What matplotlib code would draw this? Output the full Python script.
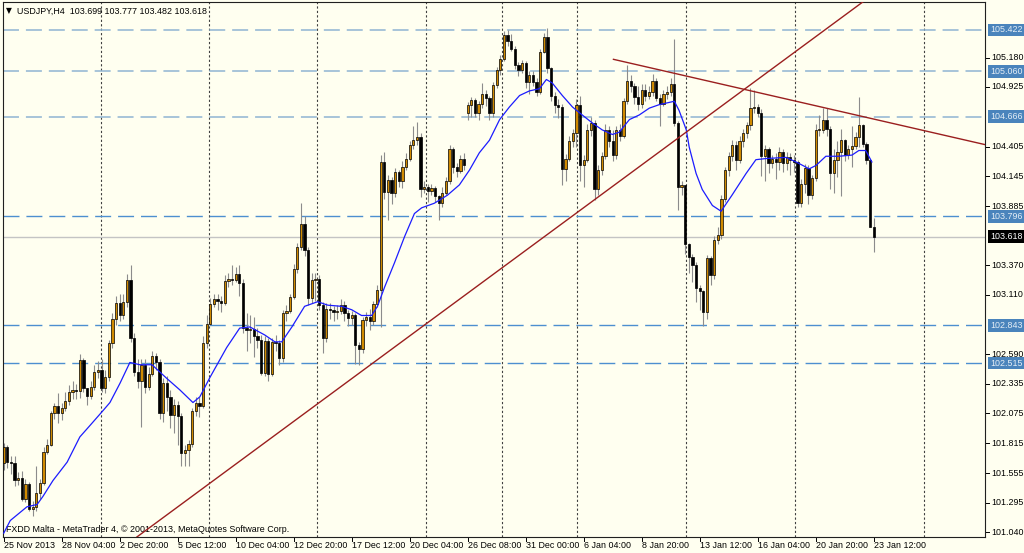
import matplotlib
matplotlib.use("Agg")
import matplotlib.pyplot as plt
from matplotlib.patches import Rectangle
from matplotlib.collections import LineCollection, PatchCollection

# MT4 screenshot: USDJPY H4 candles, MA, trendlines and S/R levels

symbol = "USDJPY,H4"
last_ohlc = [103.699, 103.777, 103.482, 103.618]
copyright_text = "FXDD Malta - MetaTrader 4, \u00a9 2001-2013, MetaQuotes Software Corp."

first_open = 101.64
gap_opens = {128: 104.70}

closes = [
    101.78, 101.65, 101.64, 101.49, 101.51, 101.33, 101.46, 101.24, 101.26, 101.38,
    101.47, 101.74, 101.80, 102.08, 102.14, 102.08, 102.12, 102.18, 102.26, 102.28,
    102.27, 102.54, 102.30, 102.23, 102.31, 102.44, 102.45, 102.30, 102.39, 102.69,
    102.90, 103.04, 102.93, 103.05, 103.24, 102.73, 102.44, 102.36, 102.50, 102.31,
    102.42, 102.58, 102.52, 102.08, 102.34, 102.22, 102.06, 102.15, 102.05, 101.73,
    101.76, 101.81, 102.10, 102.17, 102.14, 102.69, 102.86, 103.03, 103.07, 103.06,
    103.04, 103.23, 103.25, 103.24, 103.29, 103.21, 102.82, 102.80, 102.81, 102.75,
    102.72, 102.43, 102.71, 102.42, 102.70, 102.69, 102.56, 102.95, 102.97, 103.09,
    103.34, 103.53, 103.73, 103.50, 103.08, 103.24, 103.25, 103.02, 102.73, 102.99,
    102.98, 102.96, 102.97, 103.02, 102.95, 102.91, 102.93, 102.67, 102.64, 102.89,
    102.92, 102.88, 103.03, 103.15, 104.27, 104.01, 104.11, 104.00, 104.18, 104.10,
    104.23, 104.30, 104.42, 104.46, 104.49, 104.03, 104.05, 104.02, 104.04, 103.97,
    103.91, 104.00, 104.10, 104.38, 104.23, 104.19, 104.30, 104.24, 104.77, 104.81,
    104.70, 104.78, 104.86, 104.83, 104.70, 104.94, 105.07, 105.17, 105.38, 105.33,
    105.26, 105.12, 105.07, 105.13, 104.97, 105.03, 104.97, 104.88, 105.23, 105.36,
    105.09, 104.85, 104.77, 104.75, 104.21, 104.30, 104.45, 104.52, 104.77, 104.24,
    104.29, 104.55, 104.61, 104.03, 104.20, 104.32, 104.55, 104.45, 104.33, 104.55,
    104.50, 104.80, 104.98, 104.93, 104.84, 104.78, 104.90, 104.85, 104.88, 104.98,
    104.83, 104.78, 104.86, 104.88, 104.95, 104.61, 104.05, 104.07, 103.55, 103.44,
    103.37, 103.17, 103.14, 102.96, 103.43, 103.28, 103.59, 103.63, 103.95, 104.20,
    104.32, 104.42, 104.29, 104.45, 104.52, 104.59, 104.74, 104.75, 104.70, 104.32,
    104.38, 104.26, 104.30, 104.27, 104.36, 104.26, 104.31, 104.29, 104.27, 103.91,
    104.08, 104.22, 103.98, 104.13, 104.55, 104.55, 104.64, 104.56, 104.17, 104.29,
    104.36, 104.46, 104.33, 104.38, 104.41, 104.49, 104.59, 104.43, 104.29, 103.70,
    103.618,
]
highs = [
    101.82, 101.80, 101.70, 101.70, 101.56, 101.57, 101.50, 101.48, 101.31, 101.62,
    101.50, 101.78, 101.85, 102.10, 102.17, 102.25, 102.17, 102.26, 102.32, 102.36,
    102.33, 102.59, 102.56, 102.30, 102.36, 102.50, 102.53, 102.55, 102.45, 102.72,
    102.95, 103.10, 103.12, 103.12, 103.29, 103.37, 102.78, 102.55, 102.55, 102.55,
    102.48, 102.62, 102.60, 102.55, 102.38, 102.40, 102.28, 102.20, 102.18, 102.08,
    101.80, 101.84, 102.12, 102.22, 102.22, 102.75, 102.93, 103.08, 103.12, 103.12,
    103.10, 103.28, 103.30, 103.37, 103.35, 103.37, 103.25, 102.95, 102.93, 102.92,
    102.82, 102.76, 102.75, 102.73, 102.73, 102.76, 102.72, 102.98, 103.02, 103.12,
    103.38, 103.56, 103.91, 103.80, 103.53, 103.30, 103.30, 103.28, 103.05, 103.04,
    103.04, 103.01, 103.02, 103.07, 103.06, 102.98, 102.97, 102.95, 102.70, 102.92,
    102.96, 102.99, 103.06, 103.20, 104.33, 104.36, 104.16, 104.14, 104.22, 104.20,
    104.28, 104.35, 104.45, 104.58, 104.62, 104.52, 104.10, 104.08, 104.08, 104.06,
    103.98, 104.05, 104.14, 104.42, 104.40, 104.26, 104.33, 104.35, 104.79, 104.84,
    104.83, 104.80, 104.96, 104.90, 104.85, 104.97, 105.10, 105.20, 105.41, 105.42,
    105.39, 105.28, 105.14, 105.16, 105.15, 105.06, 105.06, 105.00, 105.26, 105.40,
    105.44, 105.10, 104.88, 104.82, 104.78, 104.34, 104.50, 104.56, 104.82, 104.85,
    104.33, 104.60, 104.66, 104.64, 104.24, 104.36, 104.60, 104.58, 104.55, 104.58,
    104.60, 104.83, 105.12, 105.03, 104.96, 104.93, 104.95, 104.95, 104.93, 105.04,
    105.00, 104.86, 104.90, 104.93, 105.00, 105.34, 104.63, 104.10, 104.00, 103.56,
    103.47, 103.40, 103.20, 103.15, 103.46, 103.45, 103.62, 103.70, 103.98, 104.23,
    104.36, 104.46, 104.45, 104.50, 104.56, 104.62, 104.92, 104.90, 104.78, 104.73,
    104.42, 104.40, 104.33, 104.35, 104.40, 104.38, 104.36, 104.35, 104.33, 104.29,
    104.12, 104.25, 104.24, 104.16, 104.60, 104.68, 104.74, 104.74, 104.58, 104.38,
    104.45, 104.56, 104.47, 104.42, 104.58, 104.53, 104.84, 104.60, 104.44, 104.30,
    103.777,
]
lows = [
    101.58, 101.60, 101.55, 101.44, 101.45, 101.31, 101.30, 101.22, 101.18, 101.22,
    101.33, 101.45, 101.72, 101.79, 102.03, 101.99, 102.02, 102.10, 102.15, 102.20,
    102.20, 102.21, 102.26, 102.15, 102.20, 102.28, 102.38, 102.26, 102.25, 102.36,
    102.65, 102.85, 102.88, 102.90, 103.00, 102.70, 102.40, 102.30, 101.96, 102.25,
    102.28, 102.40, 102.45, 102.03, 102.00, 102.10, 101.95, 101.90, 101.80, 101.62,
    101.62, 101.62, 101.78, 102.05, 102.04, 102.12, 102.65, 102.85, 103.00, 102.98,
    102.96, 103.02, 103.18, 103.20, 103.22, 103.10, 102.78, 102.62, 102.69, 102.57,
    102.65, 102.41, 102.40, 102.36, 102.40, 102.62, 102.50, 102.52, 102.88, 102.95,
    103.07, 103.30, 103.50, 103.45, 103.02, 103.04, 103.06, 102.98, 102.60, 102.70,
    102.90, 102.88, 102.90, 102.94, 102.88, 102.84, 102.85, 102.51, 102.50, 102.60,
    102.84, 102.80, 102.85, 103.00, 102.83, 103.95, 103.76, 103.90, 103.96, 104.05,
    104.04, 104.20, 104.28, 104.38, 104.42, 103.96, 104.00, 103.92, 103.98, 103.92,
    103.76, 103.88, 103.98, 104.08, 104.17, 104.14, 104.17, 104.20, 104.64, 104.66,
    104.66, 104.64, 104.74, 104.76, 104.64, 104.66, 104.92, 105.03, 105.15, 105.28,
    105.24, 105.08, 105.02, 105.05, 104.92, 104.86, 104.93, 104.85, 104.86, 105.22,
    105.05, 104.80, 104.70, 104.65, 104.07, 104.10, 104.28, 104.40, 104.40, 104.10,
    104.05, 104.27, 104.50, 103.94, 103.98, 104.16, 104.30, 104.40, 104.28, 104.30,
    104.45, 104.48, 104.78, 104.88, 104.78, 104.72, 104.74, 104.80, 104.82, 104.85,
    104.80, 104.58, 104.76, 104.82, 104.85, 104.58, 103.85, 103.98, 103.47, 103.30,
    103.22, 103.05, 102.98, 102.84, 102.90, 103.20, 103.25, 103.55, 103.60, 103.92,
    104.15, 104.28, 104.20, 104.26, 104.40, 104.48, 104.55, 104.70, 104.66, 104.15,
    104.10, 104.17, 104.22, 104.12, 104.20, 104.18, 104.20, 104.16, 104.18, 103.88,
    103.88, 104.00, 103.90, 103.95, 104.10, 104.50, 104.52, 104.50, 104.03, 104.00,
    104.14, 103.97, 104.28, 104.30, 104.23, 104.38, 104.40, 104.40, 104.25, 103.70,
    103.482,
]
gap_opens[len(closes) - 1] = last_ohlc[0]

# blue moving average at sparse points
ma_bars = [0, 1.8, 6.4, 9.2, 10.8, 13.6, 17.5, 21, 23.8, 27.4, 29.3, 32.1, 34.8, 37.6,
           40.9, 45, 48.6, 52.2, 54.1, 56.9, 61.5, 65.1, 67.9, 72, 74.8, 76.7, 79.5, 83,
           86.6, 89.4, 93.2, 96, 98.7, 101.5, 103.1, 105.1, 107.8, 110.6, 113.3, 115.3,
           118.8, 122.4, 125.7, 128.5, 131.2, 134, 136.8, 139.5, 142.3, 145, 147.8,
           149.7, 151.3, 154.1, 156.9, 159.6, 162.4, 165.1, 167.9, 169.8, 172.6, 175.3,
           178.1, 180.8, 183.6, 185, 186.3, 188.3, 189.1, 191, 192.7, 195.5, 197.9,
           200.9, 204.8, 207.5, 210.3, 215.8, 218.6, 222.2, 224.1, 226.8, 230.4, 234,
           235.9, 237.8, 239.5]
ma_values = [101.03, 101.14, 101.26, 101.28, 101.35, 101.49, 101.65, 101.87, 101.97,
             102.10, 102.17, 102.34, 102.52, 102.50, 102.50, 102.38, 102.28, 102.17,
             102.22, 102.39, 102.65, 102.82, 102.83, 102.76, 102.70, 102.70, 102.83,
             103.01, 103.05, 103.02, 103.01, 102.98, 102.93, 102.93, 103.01, 103.18,
             103.39, 103.62, 103.82, 103.87, 103.91, 103.98, 104.07, 104.20, 104.35,
             104.46, 104.64, 104.75, 104.85, 104.89, 104.91, 104.99, 104.96, 104.85,
             104.75, 104.68, 104.61, 104.55, 104.51, 104.53, 104.64, 104.68, 104.74,
             104.77, 104.79, 104.80, 104.72, 104.55, 104.40, 104.17, 104.03, 103.89,
             103.84, 103.98, 104.17, 104.29, 104.30, 104.31, 104.27, 104.21, 104.24,
             104.32, 104.32, 104.33, 104.37, 104.37, 104.27]

levels_upper = [105.422, 105.060, 104.666]
levels_lower = [103.796, 102.843, 102.515]
bid_price = last_ohlc[3]
scale_prices = [105.180, 104.925, 104.405, 104.145, 103.885, 103.370, 103.110, 102.590,
                102.335, 102.075, 101.815, 101.555, 101.295, 101.040]

date_bars = list(range(0, 241, 16))
date_labels = ["25 Nov 2013", "28 Nov 04:00", "2 Dec 20:00", "5 Dec 12:00", "10 Dec 04:00",
               "12 Dec 20:00", "17 Dec 12:00", "20 Dec 04:00", "26 Dec 08:00",
               "31 Dec 00:00", "6 Jan 04:00", "8 Jan 20:00", "13 Jan 12:00",
               "16 Jan 04:00", "20 Jan 20:00", "23 Jan 12:00"]

week_bars = [26.75, 56.7, 86.4, 116.5, 137.5, 158.1, 188.2, 218.2, 253.9]

rising_line = [(95.5, 102.367), (207.8, 104.986)]
falling_line = [(168.2, 105.166), (271.2, 104.418)]

BG = "#fffff0"
BULL = "#d08a00"
WICK = "#8c8c8c"
FONT = ["Liberation Sans", "DejaVu Sans"]
plt.rcParams["font.family"] = FONT
plt.rcParams["lines.scale_dashes"] = False

fig = plt.figure(figsize=(10.24, 5.53), dpi=100, facecolor=BG)
W, H = 1024, 553
ax = fig.add_axes([3 / W, 16 / H, 982 / W, 535 / H])
ax.set_facecolor(BG)
ax.set_xlim(-0.2, 270.7)
ax.set_ylim(100.9964, 105.6664)
ax.set_xticks([])
ax.set_yticks([])
for s in ax.spines.values():
    s.set_color("#202020")
    s.set_linewidth(0.8)

px_x = 982
px_y = 535

# weekly separators
for b in week_bars:
    ax.axvline(b, color="#404040", lw=0.8, ls=(0, (1.6, 1.6)), zorder=1)

# horizontal levels
for p in levels_upper:
    ax.axhline(p, color="#8fb4d2", lw=1.1, ls=(0, (11.5, 5)), zorder=1)
for p in levels_lower:
    ax.axhline(p, color="#4d8fd0", lw=1.0, ls=(0, (11.5, 5)), zorder=1)
ax.axhline(bid_price, color="#c4c4c4", lw=1.0, zorder=1)

# candles
opens = []
prev = first_open
for i, c in enumerate(closes):
    opens.append(gap_opens.get(i, prev))
    prev = c

wicks = [[(i, lows[i]), (i, highs[i])] for i in range(len(closes))]
ax.add_collection(LineCollection(wicks, colors=WICK, linewidths=0.8, zorder=2))

bw = 0.62
bull_rects, bear_rects = [], []
for i, (o, c) in enumerate(zip(opens, closes)):
    lo = min(o, c)
    h = max(abs(c - o), 0.008)
    r = Rectangle((i - bw / 2, lo), bw, h)
    (bull_rects if c >= o else bear_rects).append(r)
ax.add_collection(PatchCollection(bull_rects, facecolor=BULL, edgecolor="black",
                                  linewidth=0.5, zorder=3))
ax.add_collection(PatchCollection(bear_rects, facecolor="black", edgecolor="black",
                                  linewidth=0.5, zorder=3))

# moving average
ax.plot(ma_bars, ma_values, color="#1c1cff", lw=0.9, zorder=4)

# trendlines
ax.axline(rising_line[0], rising_line[1], color="#9a1f1f", lw=1.0, zorder=5)
ax.plot([p[0] for p in falling_line], [p[1] for p in falling_line],
        color="#9a1f1f", lw=1.0, zorder=5, clip_on=True)

# header and footer texts
ax.text(3 / px_x, 1 - 9 / px_y, "\u25bc", transform=ax.transAxes, fontsize=5.5,
        va="center", ha="left", family=["DejaVu Sans"])
ax.text(14 / px_x, 1 - 9 / px_y, symbol + "  " + " ".join(f"{v:.3f}" for v in last_ohlc),
        transform=ax.transAxes, fontsize=6.4, va="center", ha="left", color="black")
ax.text(3 / px_x, 7 / px_y, copyright_text, transform=ax.transAxes, fontsize=6.4,
        va="center", ha="left", color="black")

# right price scale
yt = ax.get_yaxis_transform()
for p in scale_prices:
    ax.plot([1, 1 + 4 / px_x], [p, p], transform=yt, color="black", lw=0.7, clip_on=False)
    ax.text(1 + 6 / px_x, p, f"{p:.3f}", transform=yt, fontsize=6.4, va="center",
            ha="left", color="black")
for p in levels_upper + levels_lower:
    ax.text(1 + 5 / px_x, p, f"{p:.3f}", transform=yt, fontsize=6.4, va="center",
            ha="left", color="#e4eef6",
            bbox=dict(boxstyle="square,pad=0.22", fc="#4a84bc", ec="none"))
ax.text(1 + 5 / px_x, bid_price, f"{bid_price:.3f}", transform=yt, fontsize=6.4,
        va="center", ha="left", color="white",
        bbox=dict(boxstyle="square,pad=0.22", fc="black", ec="none"))

# bottom time scale
xt = ax.get_xaxis_transform()
for b, lab in zip(date_bars, date_labels):
    ax.plot([b, b], [0, -4 / px_y], transform=xt, color="black", lw=0.7, clip_on=False)
    ax.text(b + 0.15, -9 / px_y, lab, transform=xt, fontsize=6.4, va="center",
            ha="left", color="black")

fig.savefig("out.png", dpi=100, facecolor=BG)
